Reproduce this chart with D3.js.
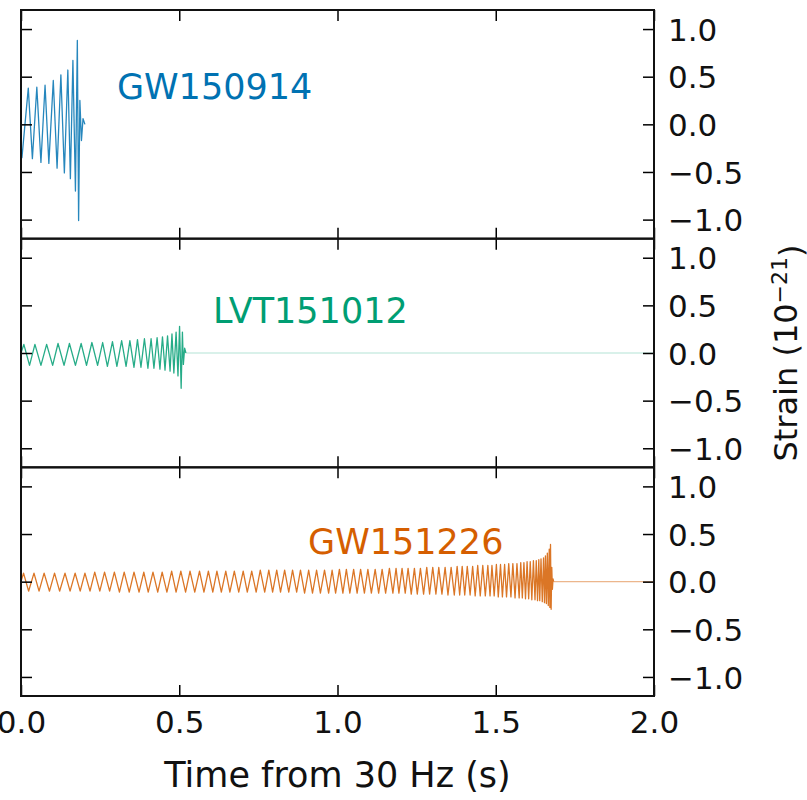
<!DOCTYPE html>
<html><head><meta charset="utf-8">
<script src="https://cdn.jsdelivr.net/npm/d3@7"></script>
<style>body{margin:0;background:#fff}svg{display:block}text{font-family:"DejaVu Sans",sans-serif}</style>
</head><body><svg id="c" width="807" height="800"></svg>
<script>
// ---------------- data ----------------
const events = ["GW150914", "LVT151012", "GW151226"];
const eventColors = ["#0072B2", "#009E73", "#D55E00"];
const xTickValues = [0, 0.5, 1.0, 1.5, 2.0];
const yTickValues = [-1.0, -0.5, 0.0, 0.5, 1.0];

const gw150914Time = [0.000, 0.003, 0.023, 0.036, 0.050, 0.063, 0.076, 0.088, 0.102, 0.114, 0.126, 0.137,
  0.148, 0.156, 0.164, 0.172, 0.178, 0.182, 0.186, 0.191, 0.196, 0.202];
const gw150914Strain = [-0.20, -0.35, 0.38, -0.36, 0.39, -0.40, 0.41, -0.41, 0.46, -0.46, 0.52, -0.51,
  0.57, -0.57, 0.67, -0.70, 0.88, -1.01, 0.25, -0.17, 0.06, 0.00];

const lvt151012Time = [0.000, 0.009, 0.027, 0.044, 0.063, 0.081, 0.100, 0.117, 0.136, 0.153, 0.172, 0.190,
  0.207, 0.224, 0.242, 0.258, 0.273, 0.289, 0.303, 0.318, 0.332, 0.344, 0.357, 0.368, 0.379, 0.390,
  0.401, 0.411, 0.420, 0.430, 0.439, 0.447, 0.455, 0.463, 0.471, 0.477, 0.483, 0.490, 0.496, 0.501,
  0.506, 0.510, 0.513, 0.517, 0.521, 2.000];
const lvt151012Strain = [0.00, 0.09, -0.13, 0.09, -0.13, 0.09, -0.13, 0.10, -0.13, 0.10, -0.13, 0.10,
  -0.13, 0.11, -0.13, 0.11, -0.14, 0.12, -0.14, 0.13, -0.14, 0.13, -0.15, 0.14, -0.15, 0.15,
  -0.16, 0.15, -0.16, 0.16, -0.17, 0.17, -0.18, 0.18, -0.19, 0.20, -0.21, 0.22, -0.24, 0.28,
  -0.37, 0.22, -0.12, 0.05, 0.00, 0.00];

const gw151226Time = [0.000,
  0.008, 0.024, 0.041, 0.057, 0.073, 0.090, 0.106, 0.122, 0.139, 0.155, 0.171,
  0.187, 0.202, 0.218, 0.233, 0.249, 0.264, 0.280, 0.295, 0.311, 0.326, 0.342, 0.357, 0.373,
  0.388, 0.402, 0.417, 0.432, 0.446, 0.461, 0.476, 0.490, 0.505, 0.520, 0.534, 0.549, 0.564, 0.578,
  0.592, 0.606, 0.619, 0.633, 0.647, 0.660, 0.674, 0.688, 0.702, 0.715, 0.729, 0.743, 0.756, 0.770,
  0.783, 0.795, 0.808, 0.820, 0.833, 0.846, 0.858, 0.871, 0.883, 0.896, 0.909, 0.921, 0.934, 0.946, 0.959, 0.972,
  0.983, 0.994, 1.006, 1.017, 1.028, 1.039, 1.051, 1.062, 1.073, 1.085, 1.096, 1.107, 1.119, 1.130, 1.141, 1.152, 1.164, 1.175,
  1.185, 1.194, 1.204, 1.214, 1.223, 1.233, 1.243, 1.252, 1.262, 1.272, 1.282, 1.291, 1.301, 1.311, 1.320, 1.330, 1.340, 1.349, 1.359, 1.369, 1.378,
  1.386, 1.394, 1.402, 1.410, 1.419, 1.427, 1.435, 1.443, 1.451, 1.459, 1.467, 1.475,
  1.482, 1.488, 1.495, 1.502, 1.508, 1.515, 1.521, 1.528, 1.534, 1.541, 1.548, 1.554, 1.561, 1.567, 1.574,
  1.579, 1.584, 1.589, 1.594, 1.599, 1.604, 1.609, 1.614, 1.619, 1.624,
  1.628, 1.632, 1.636, 1.639, 1.643, 1.647, 1.651, 1.654,
  1.657, 1.660, 1.663, 1.666, 1.669, 1.671, 1.673, 1.675, 1.677, 1.679, 1.681, 1.683, 2.000];
const gw151226Strain = [0.00,
  0.09, -0.10, 0.09, -0.10, 0.09, -0.10, 0.09, -0.10, 0.09, -0.10, 0.09,
  -0.10, 0.09, -0.10, 0.10, -0.10, 0.10, -0.10, 0.10, -0.11, 0.10, -0.11, 0.10, -0.11,
  0.10, -0.11, 0.10, -0.11, 0.10, -0.11, 0.11, -0.11, 0.11, -0.11, 0.11, -0.11, 0.11, -0.11,
  0.11, -0.11, 0.11, -0.11, 0.11, -0.11, 0.11, -0.11, 0.11, -0.11, 0.11, -0.11, 0.12, -0.11,
  0.12, -0.11, 0.12, -0.11, 0.12, -0.11, 0.12, -0.11, 0.12, -0.12, 0.12, -0.12, 0.12, -0.12, 0.12, -0.12,
  0.12, -0.12, 0.13, -0.12, 0.13, -0.12, 0.13, -0.12, 0.13, -0.12, 0.13, -0.12, 0.13, -0.12, 0.13, -0.12, 0.14, -0.12,
  0.14, -0.12, 0.14, -0.12, 0.14, -0.13, 0.14, -0.13, 0.14, -0.13, 0.15, -0.13, 0.15, -0.13, 0.15, -0.13, 0.15, -0.14, 0.15, -0.14, 0.16,
  -0.14, 0.16, -0.14, 0.16, -0.14, 0.16, -0.15, 0.17, -0.15, 0.17, -0.15, 0.17,
  -0.15, 0.17, -0.15, 0.18, -0.16, 0.18, -0.16, 0.18, -0.16, 0.19, -0.16, 0.19, -0.17, 0.19, -0.17,
  0.20, -0.17, 0.20, -0.18, 0.21, -0.18, 0.21, -0.19, 0.22, -0.19,
  0.22, -0.20, 0.23, -0.20, 0.24, -0.21, 0.25, -0.22,
  0.27, -0.23, 0.30, -0.25, 0.34, -0.27, 0.39, -0.29, 0.15, -0.08, 0.03, 0.00, 0.00];

const eventTimes = [gw150914Time, lvt151012Time, gw151226Time];
const eventStrains = [gw150914Strain, lvt151012Strain, gw151226Strain];

// ---------------- layout ----------------
const plotLeft = 21, plotRight = 654, plotTop = 10, plotBottom = 696;
const panelH = (plotBottom - plotTop) / 3;
const labelAt = [[0.303, 0.27], [0.607, 0.31], [0.907, 0.29]]; // label anchor in data coords
const tailOpacity = [0.3, 0.2, 0.45];
const tickLen = 11;

const svg = d3.select("#c");
const x = d3.scaleLinear().domain([0, 2]).range([plotLeft, plotRight]);
const fmt = d3.format(".1f");

events.forEach((name, i) => {
  const y0 = plotTop + i * panelH, y1 = y0 + panelH;
  const y = d3.scaleLinear().domain([-1.2, 1.2]).range([y1, y0]);
  const g = svg.append("g");

  const pts = eventTimes[i].map((t, k) => [t, eventStrains[i][k]]);
  let last = pts.length - 1;
  while (last > 0 && pts[last - 1][1] === 0) last--;
  const body = pts.slice(0, last + 1), tail = pts.slice(last);
  const line = d3.line().x(d => x(d[0])).y(d => y(d[1]));
  if (tail.length > 1) {
    g.append("path").attr("d", line(tail)).attr("fill", "none")
      .attr("stroke", eventColors[i]).attr("stroke-width", 1.3).attr("stroke-opacity", tailOpacity[i]);
  }
  g.append("path")
    .attr("d", line(body))
    .attr("fill", "none")
    .attr("stroke", eventColors[i])
    .attr("stroke-width", 1.3)
    .attr("stroke-opacity", 0.85)
    .attr("stroke-linejoin", "round");

  const axL = g.append("g").attr("transform", `translate(${plotLeft},0)`)
    .call(d3.axisLeft(y).tickValues(yTickValues).tickSizeInner(-tickLen).tickSizeOuter(0).tickFormat(""));
  const axR = g.append("g").attr("transform", `translate(${plotRight},0)`)
    .call(d3.axisRight(y).tickValues(yTickValues).tickSizeInner(-tickLen).tickSizeOuter(0).tickPadding(14).tickFormat(fmt));
  const axT = g.append("g").attr("transform", `translate(0,${y0})`)
    .call(d3.axisTop(x).tickValues(xTickValues).tickSizeInner(-tickLen).tickSizeOuter(0).tickFormat(""));
  const axB = g.append("g").attr("transform", `translate(0,${y1})`)
    .call(d3.axisBottom(x).tickValues(xTickValues).tickSizeInner(-tickLen).tickSizeOuter(0)
      .tickPadding(15).tickFormat(i === 2 ? fmt : ""));
  [axL, axR, axT, axB].forEach(a => {
    a.select(".domain").remove();
    a.selectAll(".tick line").attr("stroke", "#000").attr("stroke-width", 1.5);
    a.selectAll("text").attr("font-family", "DejaVu Sans").attr("font-size", 31).attr("fill", "#111");
  });
  axR.selectAll("text").attr("dy", "0.36em");

  g.append("rect").attr("x", plotLeft).attr("y", y0).attr("width", plotRight - plotLeft).attr("height", panelH)
    .attr("fill", "none").attr("stroke", "#111").attr("stroke-width", 2);

  g.append("text")
    .attr("x", x(labelAt[i][0])).attr("y", y(labelAt[i][1]))
    .attr("font-size", 35).attr("fill", eventColors[i])
    .text(name);
});

svg.append("text")
  .attr("x", (plotLeft + plotRight) / 2).attr("y", 787)
  .attr("text-anchor", "middle").attr("font-size", 35).attr("fill", "#111")
  .text("Time from 30 Hz (s)");

const yl = svg.append("text")
  .attr("transform", `translate(797,${(plotTop + plotBottom) / 2}) rotate(-90)`)
  .attr("text-anchor", "middle").attr("font-size", 32).attr("fill", "#111");
yl.append("tspan").text("Strain (10");
yl.append("tspan").attr("dy", "-0.45em").attr("font-size", 22).text("−21");
yl.append("tspan").attr("dy", "0.45em").text(")");
</script>
</body></html>
